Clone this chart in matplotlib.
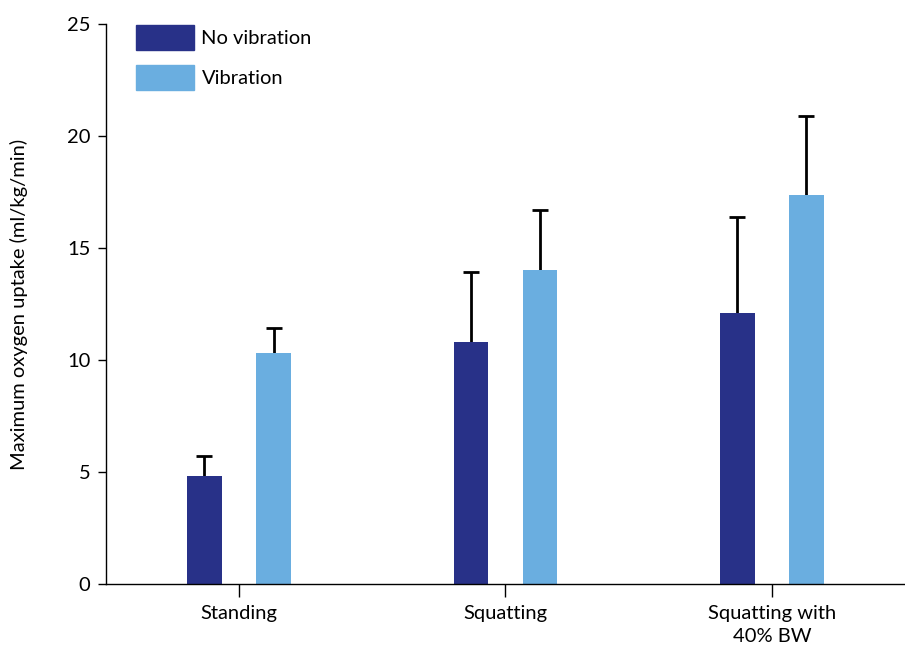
import matplotlib
matplotlib.use("Agg")
import matplotlib.pyplot as plt
import numpy as np
from matplotlib.patches import Patch

plt.rcParams['font.family'] = ['Lato', 'DejaVu Sans']

categories = ["Standing", "Squatting", "Squatting with\n40% BW"]
series_names = ["No vibration", "Vibration"]
no_vib = [4.8, 10.8, 12.1]
no_vib_err = [0.9, 3.15, 4.3]
vib = [10.3, 14.0, 17.35]
vib_err = [1.15, 2.7, 3.55]
colors = ["#283188", "#6aaee0"]

fig = plt.figure(figsize=(9.05, 6.52), dpi=100)
ax = fig.add_axes([0.117, 0.1043, 0.883, 0.8589])

x = np.arange(len(categories))
off = 0.13
w = 0.13
ax.bar(x - off, no_vib, w, color=colors[0], zorder=2)
ax.bar(x + off, vib, w, color=colors[1], zorder=2)
for xs, vals, errs in [(x - off, no_vib, no_vib_err), (x + off, vib, vib_err)]:
    _, caps, _ = ax.errorbar(xs, vals, yerr=[np.zeros(3), errs], fmt='none', ecolor='black',
                             elinewidth=2, capsize=6, capthick=2, zorder=1)
    caps[0].set_visible(False)

ax.set_xlim(-0.5, 2.5)
ax.set_ylim(0, 25)
ax.set_yticks([0, 5, 10, 15, 20, 25])
ax.set_xticks(x)
ax.set_xticklabels(categories, fontsize=14.5, linespacing=1.45)
ax.tick_params(axis='y', labelsize=14.5, length=6, width=1, direction='out', pad=5)
ax.tick_params(axis='x', length=9, width=1, direction='out', pad=6)
for s in ['top', 'right']:
    ax.spines[s].set_visible(False)
for s in ['left', 'bottom']:
    ax.spines[s].set_linewidth(1)
ax.set_ylabel("Maximum oxygen uptake (ml/kg/min)", fontsize=14.5, labelpad=28)

handles = [Patch(color=colors[0], label=series_names[0]), Patch(color=colors[1], label=series_names[1])]
ax.legend(handles=handles, loc='upper left', bbox_to_anchor=(0.015, 1.03), frameon=False,
          fontsize=14.5, handlelength=2.9, handleheight=1.5, handletextpad=0.35, labelspacing=0.75)

fig.savefig("out.png", dpi=100)
